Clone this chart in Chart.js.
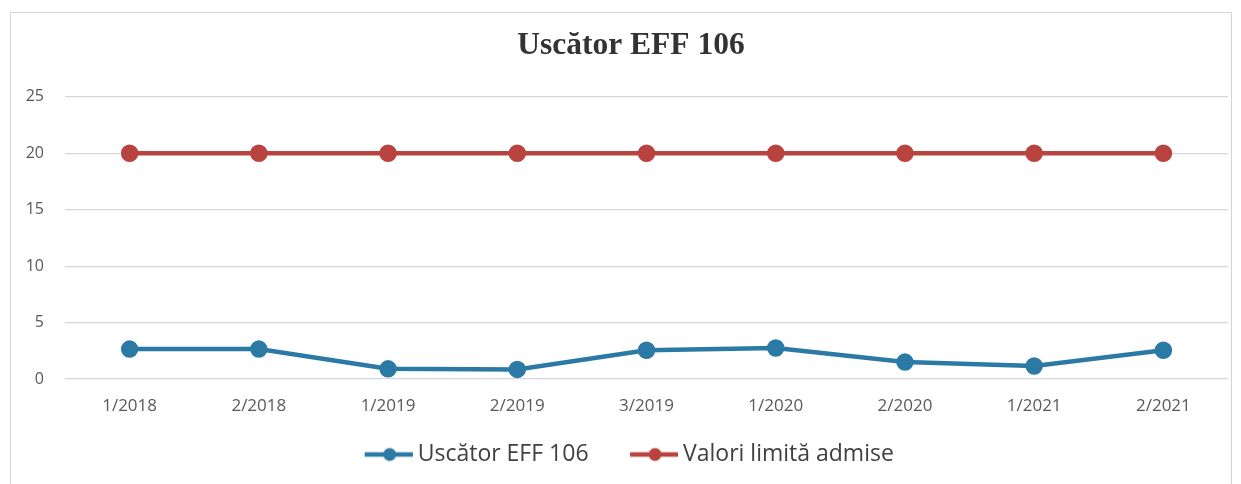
<!DOCTYPE html>
<html>
<head>
<meta charset="utf-8">
<script src="https://cdn.jsdelivr.net/npm/chart.js@4.4.1/dist/chart.umd.min.js"></script>
<style>
  html, body { margin: 0; padding: 0; background: #fff; }
  #wrap { position: relative; width: 1241px; height: 484px; overflow: hidden; }
  #frame { position: absolute; left: 10px; top: 12px; width: 1222px; height: 480px; border: 1px solid #d4d4d8; box-sizing: border-box; }
  canvas { position: absolute; left: 0; top: 0; }
</style>
</head>
<body>
<div id="wrap">
  <div id="frame"></div>
  <canvas id="chart" width="1241" height="484"></canvas>
</div>
<script>
// Chart data
const categories = ['1/2018', '2/2018', '1/2019', '2/2019', '3/2019', '1/2020', '2/2020', '1/2021', '2/2021'];
const dryerValues = [2.65, 2.65, 0.9, 0.85, 2.55, 2.75, 1.5, 1.15, 2.55];
const limitValues = [20, 20, 20, 20, 20, 20, 20, 20, 20];
const yTicks = [0, 5, 10, 15, 20, 25];

const BLUE = '#2b7aa6';
const RED = '#b9433f';
const SANS = "'Open Sans', sans-serif";

// legend marker: short line with a dot, drawn on the right side of a wider canvas
const LEG_BOX = 62;
function legendMarker(color) {
  const c = document.createElement('canvas');
  c.width = LEG_BOX + 13; c.height = 16;
  const g = c.getContext('2d');
  const x0 = c.width - 48;
  g.strokeStyle = color;
  g.lineWidth = 4.5;
  g.beginPath(); g.moveTo(x0, 8); g.lineTo(c.width, 8); g.stroke();
  g.fillStyle = color;
  g.beginPath(); g.arc(x0 + 25, 8, 6.5, 0, Math.PI * 2); g.fill();
  return c;
}

// the title in the original sits a little right of the canvas centre
const shiftTitle = {
  id: 'shiftTitle',
  afterLayout(chart) {
    if (chart.titleBlock) chart.titleBlock.left += 24;
  }
};

const ctx = document.getElementById('chart');

new Chart(ctx, {
  type: 'line',
  data: {
    labels: categories,
    datasets: [
      {
        label: 'Uscător EFF 106',
        data: dryerValues,
        borderColor: BLUE,
        backgroundColor: BLUE,
        borderWidth: 4.5,
        pointRadius: 6.5,
        pointBackgroundColor: BLUE,
        pointBorderColor: BLUE,
        tension: 0
      },
      {
        label: 'Valori limită admise',
        data: limitValues,
        borderColor: RED,
        backgroundColor: RED,
        borderWidth: 4.5,
        pointRadius: 6.5,
        pointBackgroundColor: RED,
        pointBorderColor: RED,
        tension: 0
      }
    ]
  },
  options: {
    responsive: false,
    animation: false,
    layout: { padding: { left: 10, right: 13, top: 27, bottom: 8 } },
    plugins: {
      title: {
        display: true,
        text: 'Uscător EFF 106',
        color: '#333333',
        font: { family: "'Liberation Serif', 'Times New Roman', serif", size: 31.5, weight: 'bold' },
        padding: { top: 0, bottom: 32 }
      },
      legend: {
        position: 'bottom',
        labels: {
          usePointStyle: true,
          pointStyleWidth: LEG_BOX,
          generateLabels: function(chart) {
            return chart.data.datasets.map((ds, i) => ({
              text: ds.label,
              fillStyle: ds.borderColor,
              strokeStyle: ds.borderColor,
              fontColor: '#404040',
              pointStyle: legendMarker(ds.borderColor),
              datasetIndex: i,
              hidden: false
            }));
          },
          color: '#404040',
          font: { family: SANS, size: 23 },
          padding: 21
        }
      },
      tooltip: { enabled: false }
    },
    scales: {
      y: {
        min: 0,
        max: 25,
        afterBuildTicks: function(scale) {
          scale.ticks = yTicks.map(v => ({ value: v }));
        },
        afterFit: function(scale) { scale.width = 55; },
        ticks: {
          color: '#595959',
          padding: 21,
          font: { family: SANS, size: 16 }
        },
        grid: { color: '#d6d6dc', lineWidth: 1.2, drawTicks: false },
        border: { display: false }
      },
      x: {
        offset: true,
        afterFit: function(scale) { scale.height = 43; },
        ticks: {
          color: '#595959',
          padding: 17,
          maxRotation: 0,
          font: { family: SANS, size: 17 }
        },
        grid: { display: false, drawTicks: false },
        border: { display: false }
      }
    }
  },
  plugins: [shiftTitle]
});
</script>
</body>
</html>
